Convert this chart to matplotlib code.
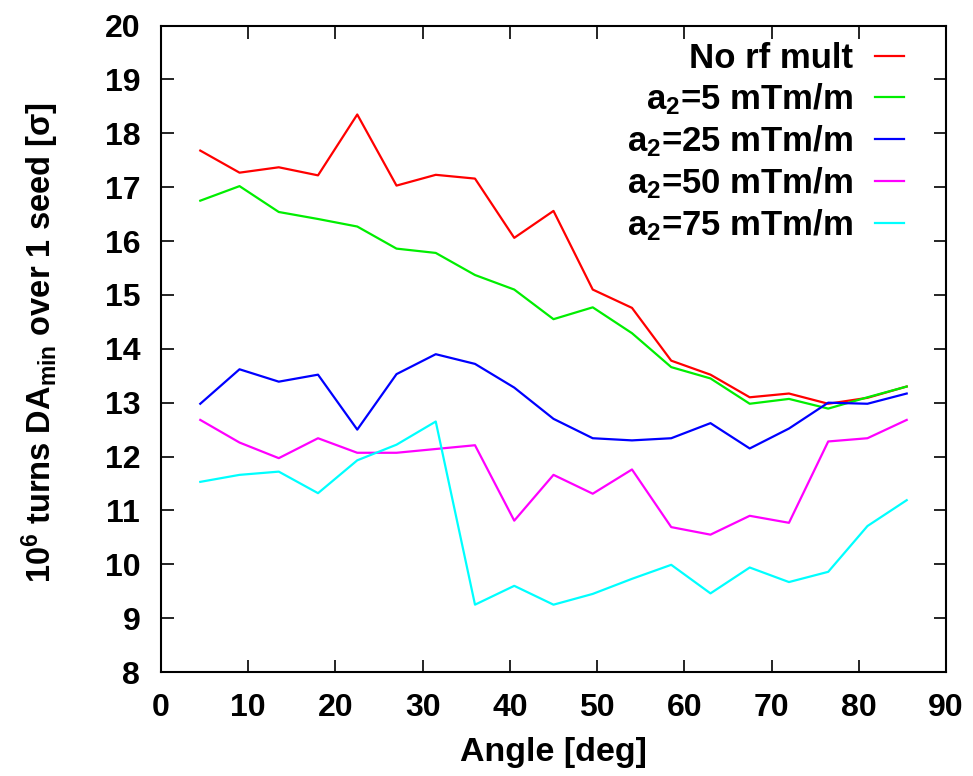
import matplotlib
matplotlib.use("Agg")
import matplotlib.pyplot as plt

plt.rcParams['font.family'] = ['Liberation Sans', 'DejaVu Sans']
plt.rcParams['font.weight'] = 'bold'
plt.rcParams['mathtext.fontset'] = 'custom'
plt.rcParams['mathtext.rm'] = 'Liberation Sans:bold'
plt.rcParams['mathtext.it'] = 'Liberation Sans:bold'
plt.rcParams['mathtext.bf'] = 'Liberation Sans:bold'
plt.rcParams['mathtext.sf'] = 'Liberation Sans'

angles = [4.5, 9.0, 13.5, 18.0, 22.5, 27.0, 31.5, 36.0, 40.5, 45.0,
          49.5, 54.0, 58.5, 63.0, 67.5, 72.0, 76.5, 81.0, 85.5]

no_rf = [17.68, 17.27, 17.37, 17.22, 18.35, 17.03, 17.23, 17.16, 16.06, 16.56,
         15.10, 14.76, 13.78, 13.52, 13.10, 13.17, 12.98, 13.09, 13.30]
a2_5 = [16.75, 17.02, 16.54, 16.41, 16.27, 15.86, 15.78, 15.37, 15.10, 14.55,
        14.77, 14.29, 13.66, 13.45, 12.98, 13.07, 12.89, 13.10, 13.30]
a2_25 = [12.98, 13.62, 13.39, 13.52, 12.50, 13.53, 13.90, 13.72, 13.28, 12.70,
         12.34, 12.30, 12.34, 12.62, 12.15, 12.52, 13.00, 12.98, 13.17]
a2_50 = [12.68, 12.26, 11.97, 12.34, 12.07, 12.07, 12.14, 12.21, 10.81, 11.66,
         11.31, 11.76, 10.69, 10.55, 10.90, 10.77, 12.28, 12.34, 12.68]
a2_75 = [11.53, 11.66, 11.72, 11.32, 11.93, 12.22, 12.65, 9.25, 9.60, 9.25,
         9.45, 9.73, 9.99, 9.46, 9.94, 9.67, 9.86, 10.71, 11.19]

labels = ['No rf mult', r'a$_{2}$=5 mTm/m', r'a$_{2}$=25 mTm/m',
          r'a$_{2}$=50 mTm/m', r'a$_{2}$=75 mTm/m']
colors = ['#ff0000', '#00ee00', '#0000ff', '#ff00ff', '#00ffff']
series = [no_rf, a2_5, a2_25, a2_50, a2_75]

xticks = [0, 10, 20, 30, 40, 50, 60, 70, 80, 90]
yticks = [8, 9, 10, 11, 12, 13, 14, 15, 16, 17, 18, 19, 20]

fig = plt.figure(figsize=(9.73, 7.76), dpi=100)
ax = fig.add_axes([0.1655, 0.134, 0.8067, 0.833])

for ys, c, lab in zip(series, colors, labels):
    ax.plot(angles, ys, color=c, lw=1.6, label=lab)

ax.set_xlim(0, 90)
ax.set_ylim(8, 20)
ax.set_xticks(xticks)
ax.set_yticks(yticks)
ax.tick_params(direction='in', length=9, width=1.2, top=True, right=True,
               labelsize=23, pad=15)
for lab in ax.get_xticklabels() + ax.get_yticklabels():
    lab.set_fontweight('bold')
for s in ax.spines.values():
    s.set_linewidth(1.5)

ax.set_xlabel('Angle [deg]', fontsize=24.5, fontweight='bold')
ax.xaxis.set_label_coords(0.5, -0.1)
ax.set_ylabel(r'10$^{6}$ turns DA$_{\mathrm{min}}$ over 1 seed [$\sigma$]',
              fontsize=23.5, fontweight='bold')
ax.yaxis.set_label_coords(-0.128, 0.51)

leg = ax.legend(loc='upper right', bbox_to_anchor=(0.947, 0.975), frameon=False,
                markerfirst=False, fontsize=25, handlelength=0.84,
                handletextpad=0.63, labelspacing=0.18, borderaxespad=0.0,
                borderpad=0.0)
for t in leg.get_texts():
    t.set_fontweight('bold')

fig.savefig('out.png', dpi=100)
